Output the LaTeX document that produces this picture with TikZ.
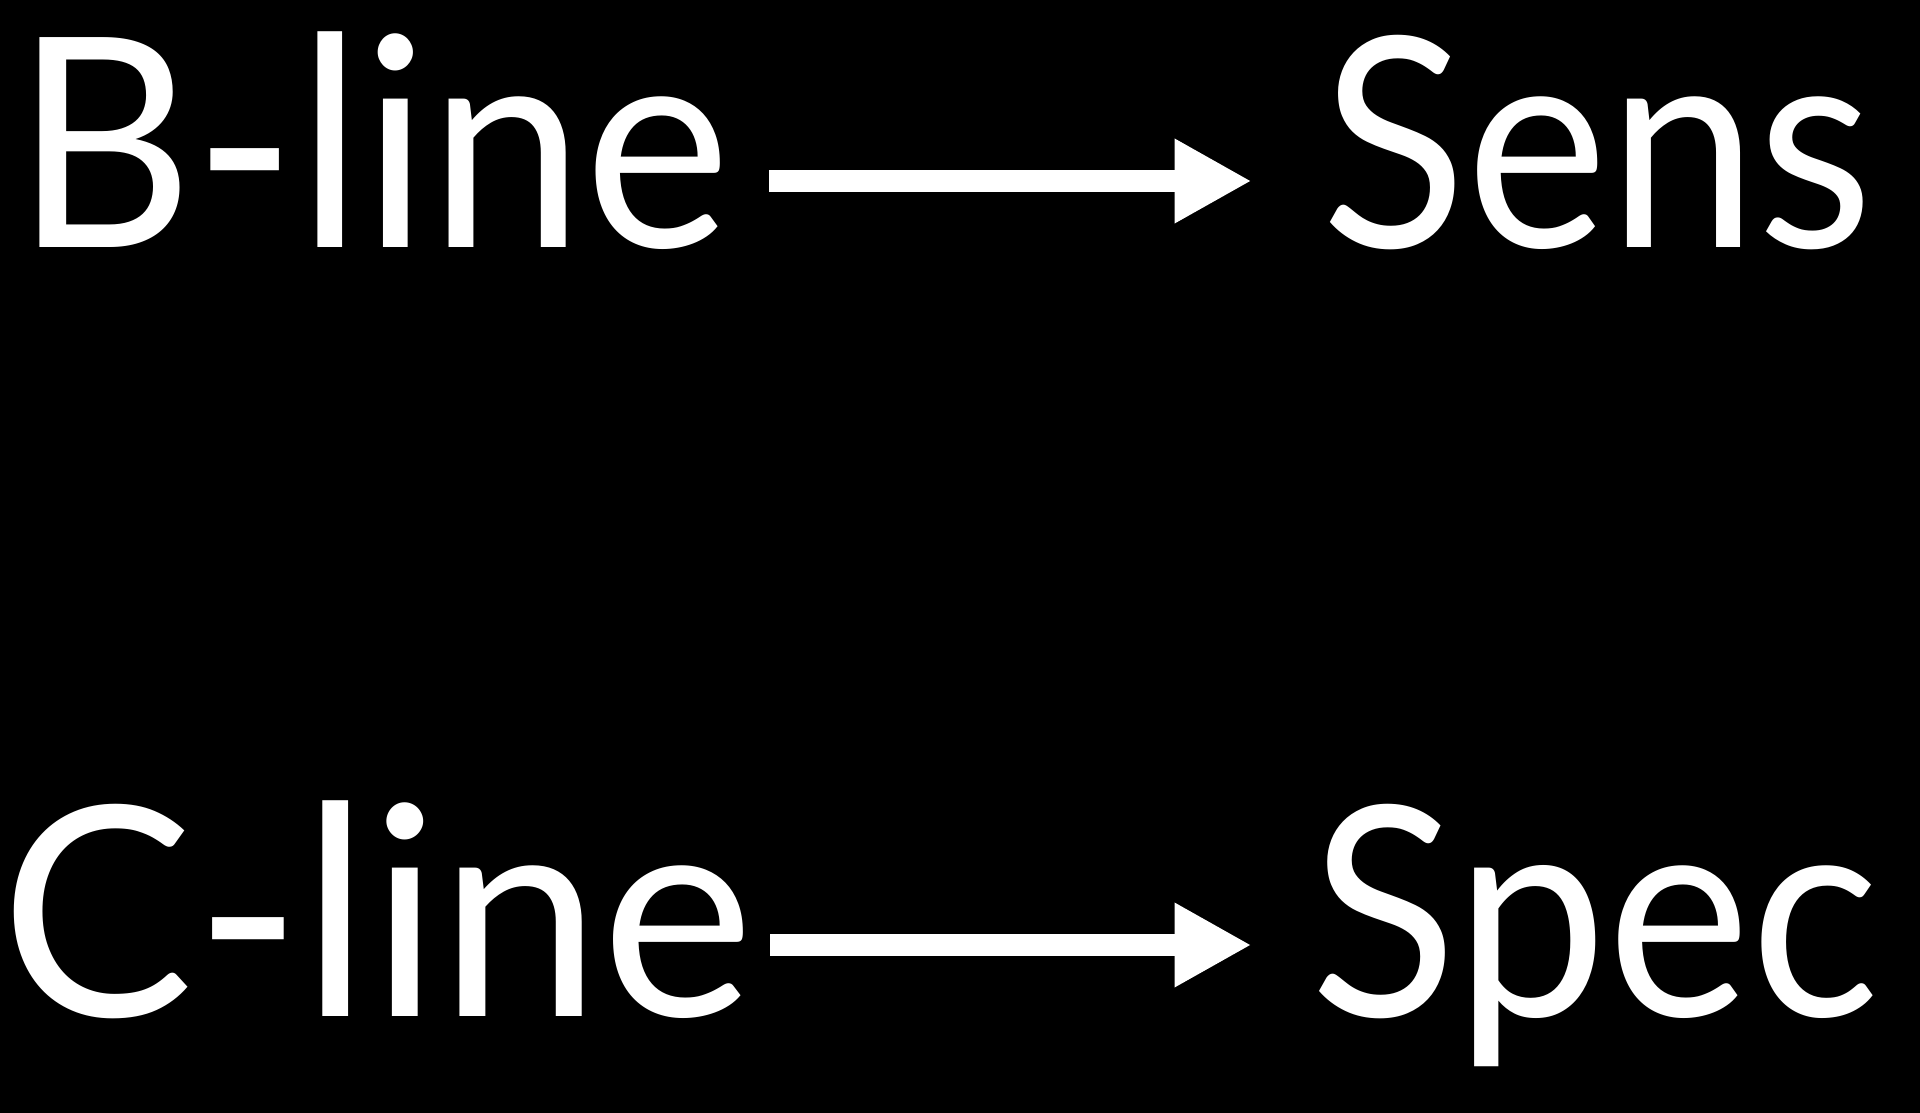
\documentclass[tikz,border=0pt]{standalone}
\usepackage{fontspec}
\setmainfont{Lato}
\usetikzlibrary{arrows.meta}
\begin{document}
\begin{tikzpicture}[x=1pt,y=-1pt,
  word/.style={text=white,inner sep=0pt,outer sep=0pt,anchor=base west,font=\fontsize{293}{300}\selectfont},
  bigarrow/.style={draw=white,line width=22pt,-{Triangle[length=77pt,width=79pt]}}]
\fill[black] (0,0) rectangle (1920,1113);
\useasboundingbox (0,0) rectangle (1920,1113);
\node[word] (bline) at (14.4,247) {\scalebox{0.947}[1]{B-line}};
\node[word] (sens) at (1321.6,247) {\scalebox{0.915}[1]{Sens}};
\node[word] (cline) at (0.5,1016) {\scalebox{0.989}[1]{C-line}};
\node[word] (spec) at (1310.7,1016) {\scalebox{0.925}[1]{Spec}};
\draw[bigarrow,shorten <=39pt,shorten >=70pt] ([yshift=66pt]bline.base east) -- ([yshift=66pt]sens.base west);
\draw[bigarrow,shorten <=16pt,shorten >=59.2pt] ([yshift=71pt]cline.base east) -- ([yshift=71pt]spec.base west);
\end{tikzpicture}
\end{document}
